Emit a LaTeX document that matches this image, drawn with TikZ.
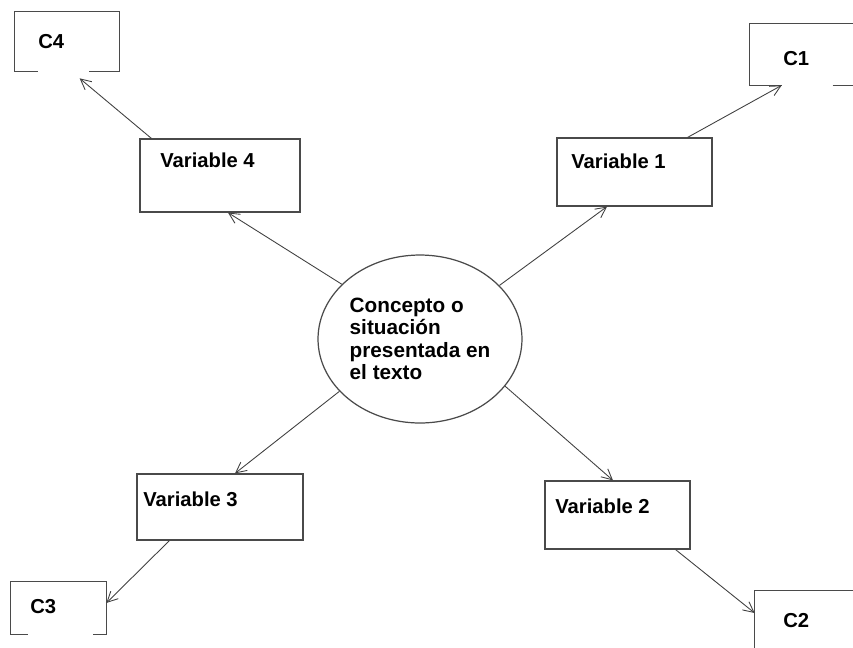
\documentclass[tikz,border=0pt]{standalone}
\usepackage{fontspec}
\setmainfont{Liberation Sans}
\definecolor{mapLine}{HTML}{404040}
\definecolor{mapFrame}{HTML}{4A4A4A}
\definecolor{mapInk}{HTML}{000000}
\usetikzlibrary{arrows.meta, positioning, shapes.geometric, calc}

\begin{document}
\begin{tikzpicture}[
    x=0.02cm, y=-0.02cm,
    varbox/.style={
      rectangle,
      draw=mapFrame,
      line width=0.7pt,
      inner sep=0pt,
    },
    cbox/.style={
      rectangle,
      inner sep=0pt,
    },
    txt/.style={
      anchor=base west,
      inner sep=0pt,
      text=mapInk,
      font=\fontsize{11.5}{13}\selectfont\bfseries,
    },
    frame/.style={mapFrame, line width=0.7pt},
    arr/.style={-{Straight Barb[length=6pt, width=6pt]}, mapLine, line width=0.5pt},
  ]
    \useasboundingbox (0,0) rectangle (853,647);

    % centre
    \node[ellipse, draw=mapFrame, line width=0.7pt, minimum width=4.08cm, minimum height=3.36cm,
      inner sep=0pt, align=left, text=mapInk,
      font=\fontsize{11.8}{12.8}\selectfont\bfseries] (ctx) at (420,339) {
      Concepto o\\
      situación\\
      presentada en\\
      el texto
    };

    % variables
    \node[varbox, minimum width=3.2cm, minimum height=1.46cm] (v4) at (220,175.5) {};
    \node[varbox, minimum width=3.1cm, minimum height=1.36cm] (v1) at (634.5,172) {};
    \node[varbox, minimum width=3.32cm, minimum height=1.32cm] (v3) at (220,507) {};
    \node[varbox, minimum width=2.9cm, minimum height=1.36cm] (v2) at (617.5,515) {};

    \node[txt] (v4t) at (160,167) {Variable 4};
    \node[txt] (v1t) at (571,168) {Variable 1};
    \node[txt] (v3t) at (143,506) {Variable 3};
    \node[txt] (v2t) at (555,513) {Variable 2};

    % C boxes (open outlines)
    \node[cbox, minimum width=2.08cm, minimum height=1.18cm] (c4) at (67,41.5) {};
    \node[cbox, minimum width=2.4cm, minimum height=1.22cm] (c1) at (810,54.5) {};
    \node[cbox, minimum width=1.9cm, minimum height=1.04cm] (c3) at (58.5,608) {};
    \node[cbox, minimum width=2.3cm, minimum height=1.38cm] (c2) at (812.5,625.5) {};

    \node[txt] (c4t) at (38,48) {C4};
    \node[txt] (c1t) at (783,65) {C1};
    \node[txt] (c3t) at (30,613) {C3};
    \node[txt] (c2t) at (783,627) {C2};

    \draw[frame] ($(c4.south west)+(23,0)$) -- (c4.south west) -- (c4.north west)
      -- (c4.north east) -- (c4.south east) -- ++(-30,0);
    \draw[frame] ($(c1.south west)+(32,0)$) -- (c1.south west) -- (c1.north west) -- (c1.north east);
    \draw[frame] ($(c1.south west)+(83,0)$) -- (c1.south east);
    \draw[frame] ($(c3.south west)+(17,0)$) -- (c3.south west) -- (c3.north west)
      -- (c3.north east) -- (c3.south east) -- ++(-13,0);
    \draw[frame] (c2.south west) -- (c2.north west) -- (c2.north east);

    % connectors
    \draw[arr] (ctx.145) -- ([xshift=0.16cm]v4.south);
    \draw[arr] (ctx.34) -- ([xshift=-0.55cm]v1.south);
    \draw[arr] (ctx.213) -- ([xshift=0.3cm]v3.north);
    \draw[arr] (ctx.-29) -- ([xshift=-0.09cm]v2.north);

    \draw[arr] ([xshift=0.24cm]v4.north west) -- ([shift={(1.3cm,-0.14cm)}]c4.south west);
    \draw[arr] ([xshift=-0.5cm]v1.north east) -- ([xshift=0.64cm]c1.south west);
    \draw[arr] ([xshift=0.66cm]v3.south west) -- ([yshift=0.1cm]c3.east);
    \draw[arr] ([xshift=-0.3cm]v2.south east) -- ([yshift=0.25cm]c2.west);
  \end{tikzpicture}
\end{document}
